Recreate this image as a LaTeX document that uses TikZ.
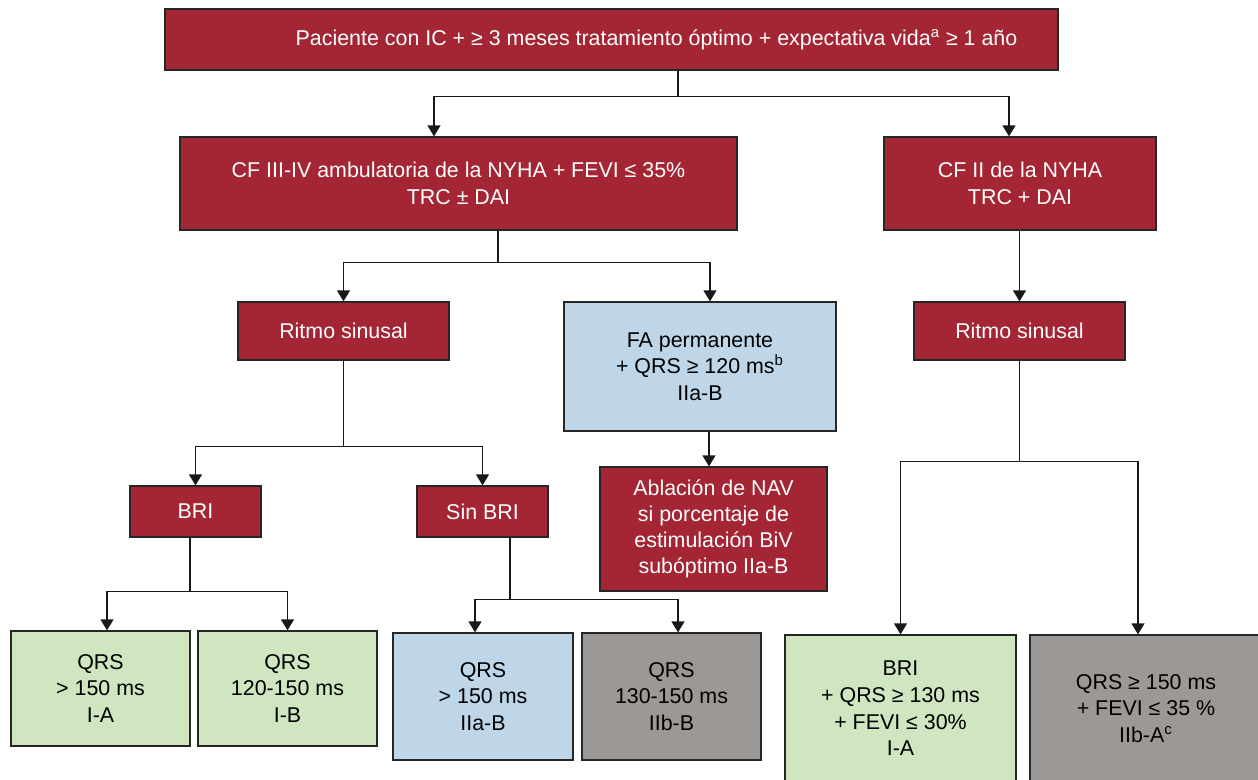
\documentclass[tikz,border=0pt]{standalone}
\usepackage{fontspec}
\setmainfont{Liberation Sans}
\usepackage{tikz}
\usetikzlibrary{arrows.meta}
\definecolor{boxred}{RGB}{164,38,52}
\definecolor{boxblue}{RGB}{190,214,232}
\definecolor{boxgreen}{RGB}{207,230,193}
\definecolor{boxgray}{RGB}{156,152,149}

\begin{document}
\begin{tikzpicture}[x=0.5pt,y=-0.5pt,
	box/.style={draw=black!85,line width=0.65pt,rectangle,inner sep=0pt,align=center,font=\fontsize{10.7}{13.3}\selectfont},
	redbox/.style={box,fill=boxred,text=white},
	bluebox/.style={box,fill=boxblue},
	greenbox/.style={box,fill=boxgreen},
	graybox/.style={box,fill=boxgray},
	wh/.style 2 args={minimum width=#1*0.5pt,minimum height=#2*0.5pt},
	link/.style={line width=0.7pt,black!90},
	arr/.style={link,-{Triangle[width=6.5pt,length=5.5pt]}}]
	\useasboundingbox (0,0) rectangle (1258,780);
	\clip (0,0) rectangle (1258,780);

	\node[redbox,wh={893}{61}] (top) at (611.5,39.5) {\hspace*{45pt}Paciente con IC + ≥ 3 meses tratamiento óptimo + expectativa vida\textsuperscript{a} ≥ 1 año};
	\node[redbox,wh={557}{93}] (cftres) at (458.5,183.5) {CF III-IV ambulatoria de la NYHA + FEVI ≤ 35\%\\TRC ± DAI};
	\node[redbox,wh={272}{93}] (cfdos) at (1020,183.5) {CF II de la NYHA\\TRC + DAI};
	\node[redbox,wh={211}{58}] (ritmoa) at (343.5,331) {Ritmo sinusal};
	\node[bluebox,wh={272}{129}] (fa) at (700,366.5) {FA permanente\\+ QRS ≥ 120 ms\textsuperscript{b}\\IIa-B};
	\node[redbox,wh={211}{58}] (ritmob) at (1019.5,331) {Ritmo sinusal};
	\node[redbox,wh={131}{51}] (bri) at (195.5,511.5) {BRI};
	\node[redbox,wh={131}{51}] (sinbri) at (482.5,511.5) {Sin BRI};
	\node[redbox,wh={227}{124},font=\fontsize{10.7}{12.9}\selectfont] (ablacion) at (713.5,529) {Ablación de NAV\\si porcentaje de\\estimulación BiV\\subóptimo IIa-B};
	\node[greenbox,wh={179}{115}] (qrsa) at (100.5,688.5) {QRS\\> 150 ms\\I-A};
	\node[greenbox,wh={179}{115}] (qrsb) at (287.5,688.5) {QRS\\120-150 ms\\I-B};
	\node[bluebox,wh={180}{127}] (qrsc) at (483,696.5) {QRS\\> 150 ms\\IIa-B};
	\node[graybox,wh={179}{127}] (qrsd) at (671.5,696.5) {QRS\\130-150 ms\\IIb-B};
	\node[greenbox,wh={231}{147}] (qrse) at (900.5,708.5) {BRI\\+ QRS ≥ 130 ms\\+ FEVI ≤ 30\%\\I-A};
	\node[graybox,wh={232}{147}] (qrsf) at (1146,708.5) {QRS ≥ 150 ms\\+ FEVI ≤ 35 \%\\IIb-A\textsuperscript{c}};

	\draw[link] ([xshift=33.25pt]top.south) -- ++(0,26) coordinate (jtop);
	\draw[arr] (jtop) -| ([xshift=-12.25pt]cftres.north);
	\draw[arr] (jtop) -| ([xshift=-5.5pt]cfdos.north);

	\draw[link] ([xshift=19.75pt]cftres.south) -- ++(0,32) coordinate (jcf);
	\draw[arr] (jcf) -| (ritmoa.north);
	\draw[arr] (jcf) -| ([xshift=5pt]fa.north);

	\draw[arr] (cfdos.south -| ritmob.north) -- (ritmob.north);

	\draw[link] (ritmoa.south) -- ++(0,86) coordinate (jritmoa);
	\draw[arr] (jritmoa) -| (bri.north);
	\draw[arr] (jritmoa) -| (sinbri.north);

	\draw[arr] ([xshift=4.5pt]fa.south) -- ([xshift=-2.25pt]ablacion.north);

	\draw[link] (ritmob.south) -- ++(0,101) coordinate (jritmob);
	\draw[arr] (jritmob) -| (qrse.north);
	\draw[arr] (jritmob) -| ([xshift=-4pt]qrsf.north);

	\draw[link] ([xshift=-2.75pt]bri.south) -- ++(0,54) coordinate (jbri);
	\draw[arr] (jbri) -| ([xshift=3.25pt]qrsa.north);
	\draw[arr] (jbri) -| (qrsb.north);

	\draw[link] ([xshift=13.75pt]sinbri.south) -- ++(0,62) coordinate (jsinbri);
	\draw[arr] (jsinbri) -| ([xshift=-4pt]qrsc.north);
	\draw[arr] (jsinbri) -| ([xshift=3.25pt]qrsd.north);
\end{tikzpicture}
\end{document}
